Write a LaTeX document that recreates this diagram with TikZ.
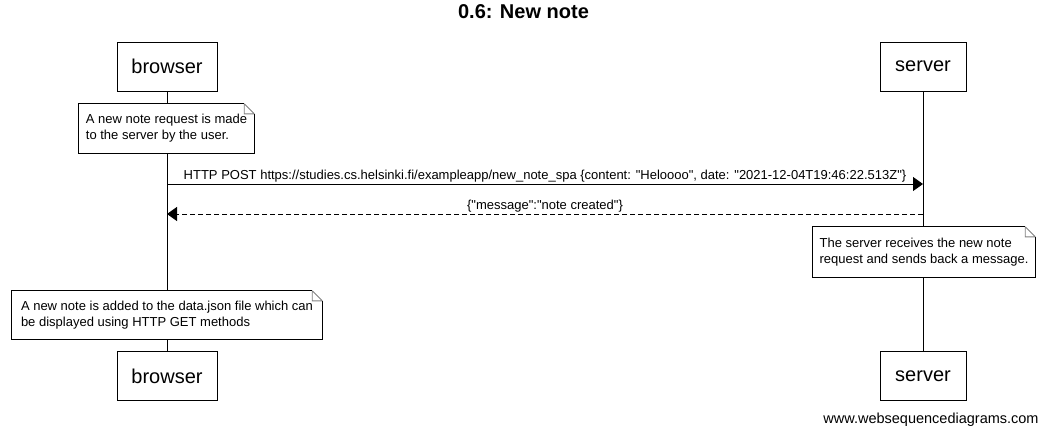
\documentclass[tikz,border=0pt]{standalone}
\usepackage{fontspec}
\setmainfont{Liberation Sans}[Ligatures=TeXOff]
\usetikzlibrary{arrows.meta}
\newcommand\drawnotefold[1]{%
  \draw[line width=0.9pt] ([xshift=-10pt]#1.north east) -- (#1.north west) -- (#1.south west) -- (#1.south east) -- ([yshift=-10pt]#1.north east);
  \draw[line width=0.9pt, gray] ([xshift=-10pt]#1.north east) -- ([yshift=-10pt]#1.north east)
    ([xshift=-10pt]#1.north east) -- ([xshift=-10pt,yshift=-10pt]#1.north east) -- ([yshift=-10pt]#1.north east);
}
\begin{document}
\begin{tikzpicture}[x=1pt,y=-1pt,
  actor/.style={draw, line width=1pt, minimum height=49pt, inner sep=0pt, fill=white,
    font=\fontsize{20}{24}\selectfont},
  notebox/.style={inner xsep=6pt, inner ysep=0pt, align=left, fill=white,
    font=\fontsize{13}{16}\selectfont},
  lifeline/.style={line width=1pt},
  msg/.style={line width=1pt, -{Triangle[length=10pt,width=14pt]}},
  reply/.style={msg, dash pattern=on 5pt off 3pt},
  lbl/.style={font=\fontsize{13}{15}\selectfont, inner sep=0pt},
]
\fill[white] (0,0) rectangle (1051,445);
\useasboundingbox (0,0) rectangle (1051,445);

\node[font=\bfseries\fontsize{20}{24}\selectfont] (title) at (523.5,12) {0.6: New note};

\node[actor, minimum width=100pt] (bt) at (167,66.5) {browser};
\node[actor, minimum width=86pt] (st) at (923,66.5) {server};
\node[actor, minimum width=100pt] (bb) at (167,376) {browser};
\node[actor, minimum width=86pt] (sb) at (923,376) {server};

\draw[lifeline] (bt) -- (bb);
\draw[lifeline] (st) -- (sb);

\node[notebox, minimum width=175pt, minimum height=49pt] (n1) at (166.5,128.5)
  {A new note request is made\\to the server by the user.};
\drawnotefold{n1}
\node[notebox, minimum width=222pt, minimum height=50pt] (n2) at (924,252)
  {The server receives the new note\\request and sends back a message.};
\drawnotefold{n2}
\node[notebox, minimum width=310pt, minimum height=48pt] (n3) at (167,315)
  {A new note is added to the data.json file which can\\be displayed using HTTP GET methods};
\drawnotefold{n3}

\coordinate (b1) at (167,184);
\coordinate (s1) at (923,184);
\coordinate (b2) at (167,214);
\coordinate (s2) at (923,214);

\draw[msg] (b1) -- node[lbl, above=1.5pt] {HTTP POST https://studies.cs.helsinki.fi/exampleapp/new\_note\_spa \{content: "Heloooo", date: "2021-12-04T19:46:22.513Z"\}} (s1);
\draw[reply] (s2) -- node[lbl, above=1.5pt] {\{"message":"note created"\}} (b2);

\node[font=\fontsize{14.5}{17}\selectfont, inner sep=0pt] (wm) at (931,420) {www.websequencediagrams.com};
\end{tikzpicture}
\end{document}
